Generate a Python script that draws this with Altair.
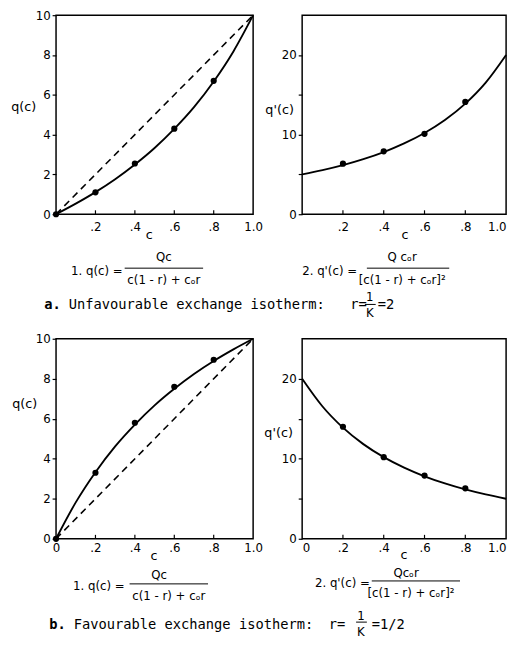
import json
import altair as alt
import pandas as pd

# ---------------- data ----------------
c_curve = [0.0, 0.1, 0.2, 0.3, 0.4, 0.5, 0.6, 0.7, 0.8, 0.9, 1.0]
q_unfav = [0.0, 0.53, 1.11, 1.76, 2.50, 3.33, 4.29, 5.38, 6.67, 8.18, 10.0]
qp_unfav = [5.0, 5.54, 6.17, 6.92, 7.81, 8.89, 10.2, 11.83, 13.89, 16.53, 20.0]
q_fav = [0.0, 1.82, 3.33, 4.62, 5.71, 6.67, 7.50, 8.24, 8.89, 9.47, 10.0]
qp_fav = [20.0, 16.53, 13.89, 11.83, 10.2, 8.89, 7.81, 6.92, 6.17, 5.54, 5.0]

c_dots_left = [0.0, 0.2, 0.4, 0.6, 0.8]
c_dots_right = [0.2, 0.4, 0.6, 0.8]
qdots_unfav = [0.0, 1.1, 2.55, 4.3, 6.7]
qpdots_unfav = [6.35, 7.9, 10.1, 14.1]
qdots_fav = [0.0, 3.3, 5.8, 7.6, 8.95]
qpdots_fav = [14.0, 10.2, 7.9, 6.3]

diag_c = [0.0, 1.0]
diag_q = [0.0, 10.0]

x_ticks = [0.0, 0.2, 0.4, 0.6, 0.8, 1.0]
x_labels_top = ["", ".2", ".4", ".6", ".8", "1.0"]
x_labels_bottom = ["0", ".2", ".4", ".6", ".8", "1.0"]
q_ticks = [0, 2, 4, 6, 8, 10]
qp_ticks = [0, 5, 10, 15, 20]
qp_labels = ["0", "", "10", "", "20"]

FONT = "DejaVu Sans"
MONO = "DejaVu Sans Mono"


def txt(s, x, y, size=12, align="center", font=FONT, weight="normal"):
    return alt.Chart(alt.Data(values=[{}])).mark_text(
        text=s, align=align, baseline="middle", fontSize=size, font=font,
        fontWeight=weight, color="black"
    ).encode(x=alt.value(x), y=alt.value(y))


def hline(x1, x2, y, w=1.0):
    return alt.Chart(alt.Data(values=[{}])).mark_rule(
        color="black", strokeWidth=w
    ).encode(x=alt.value(x1), x2=alt.value(x2), y=alt.value(y))


def panel(w, h, curve_q, dot_c, dot_q, ydom, yticks, ylabels, xlabels,
          xpad, xflush, diag, extras):
    xax = alt.Axis(values=x_ticks,
                   labelExpr=json.dumps(xlabels) + "[round(datum.value*5)]",
                   tickSize=0, domain=False, grid=False, labelPadding=xpad,
                   labelFlush=xflush, title=None)
    if ylabels is None:
        yexpr = "datum.label"
    else:
        yexpr = json.dumps(ylabels) + "[round(datum.value/5)]"
    yax = alt.Axis(values=yticks, labelExpr=yexpr, tickSize=4, domain=False,
                   grid=False, labelPadding=2, title=None)
    X = alt.X("c:Q", scale=alt.Scale(domain=[0, 1], nice=False, zero=False), axis=xax)
    Y = alt.Y("q:Q", scale=alt.Scale(domain=ydom, nice=False), axis=yax)

    layers = []
    layers.append(alt.Chart(pd.DataFrame({"c": c_curve, "q": curve_q})).mark_line(
        color="black", strokeWidth=1.9, interpolate="monotone").encode(x=X, y=Y))
    if diag:
        layers.append(alt.Chart(pd.DataFrame({"c": diag_c, "q": diag_q})).mark_line(
            color="black", strokeWidth=1.6, strokeDash=[7, 5]).encode(x=X, y=Y))
    layers.append(alt.Chart(pd.DataFrame({"c": dot_c, "q": dot_q})).mark_circle(
        color="black", opacity=1, size=40).encode(x=X, y=Y))
    layers.append(alt.Chart(pd.DataFrame({"c": x_ticks[1:-1]})).mark_rule(
        color="black", strokeWidth=1.2).encode(x=X, y=alt.value(h), y2=alt.value(h - 4)))
    layers += extras
    return alt.layer(*layers).properties(width=w, height=h)


tl = panel(201, 203, q_unfav, c_dots_left, qdots_unfav, [0, 10], q_ticks, None,
           x_labels_top, 8, False, True, [
               txt("q(c)", -33, 94, 13),
               txt("c", 95, 224, 13),
               txt("1. q(c) =", 68, 261, align="right"),
               hline(70, 150, 258),
               txt("Qc", 110, 247),
               txt("c(1 - r) + cₒr", 110, 270),
               txt("a.", -12, 296, 14, "left", MONO, "bold"),
               txt("Unfavourable exchange isotherm:", 13, 296, 14, "left", MONO),
               txt("r=", 300, 296, 14, "left", MONO),
               txt("1", 320, 288, 12),
               hline(315, 326, 295),
               txt("K", 320, 304, 12),
               txt("=2", 328, 296, 14, "left", MONO),
           ])

tr = panel(208, 203, qp_unfav, c_dots_right, qpdots_unfav, [0, 25], qp_ticks, qp_labels,
           x_labels_top, 8, True, False, [
               txt("q'(c)", -23, 97, 13),
               txt("c", 105, 224, 13),
               txt("2. q'(c) =", 56, 261, align="right"),
               hline(66, 150, 258),
               txt("Q cₒr", 102, 247),
               txt("[c(1 - r) + cₒr]²", 102, 270),
           ])

bl = panel(201, 204, q_fav, c_dots_left, qdots_fav, [0, 10], q_ticks, None,
           x_labels_bottom, 4, False, True, [
               txt("q(c)", -32, 67, 13),
               txt("c", 100, 222, 13),
               txt("1. q(c) =", 70, 252, align="right"),
               hline(75, 155, 250),
               txt("Qc", 105, 241),
               txt("c(1 - r) + cₒr", 115, 262),
               txt("b.", -7, 292, 14, "left", MONO, "bold"),
               txt("Favourable exchange isotherm:", 18, 292, 14, "left", MONO),
               txt("r=", 278, 292, 14, "left", MONO),
               txt("1", 311, 283, 12),
               hline(306, 317, 289),
               txt("K", 311, 299, 12),
               txt("=1/2", 322, 292, 14, "left", MONO),
           ])

br = panel(208, 204, qp_fav, c_dots_right, qpdots_fav, [0, 25], qp_ticks, qp_labels,
           x_labels_bottom, 4, True, False, [
               txt("q'(c)", -24, 96, 13),
               txt("c", 104, 221, 13),
               txt("2. q'(c) =", 69, 249, align="right"),
               hline(71, 161, 247),
               txt("Qcₒr", 106, 239),
               txt("[c(1 - r) + cₒr]²", 111, 259),
           ])

chart = alt.concat(
    tl, tr, bl, br, columns=2,
    spacing={"row": 127, "column": 50}, bounds="flush",
).properties(
    padding={"left": 2, "top": -6, "right": 0, "bottom": 0}
).configure_view(
    stroke="black", strokeWidth=1.5
).configure_axis(
    labelFont=FONT, labelFontSize=12, labelColor="black",
    tickColor="black", tickWidth=1.2
)

chart.save("out.html", embed_options={"renderer": "svg", "actions": False})
